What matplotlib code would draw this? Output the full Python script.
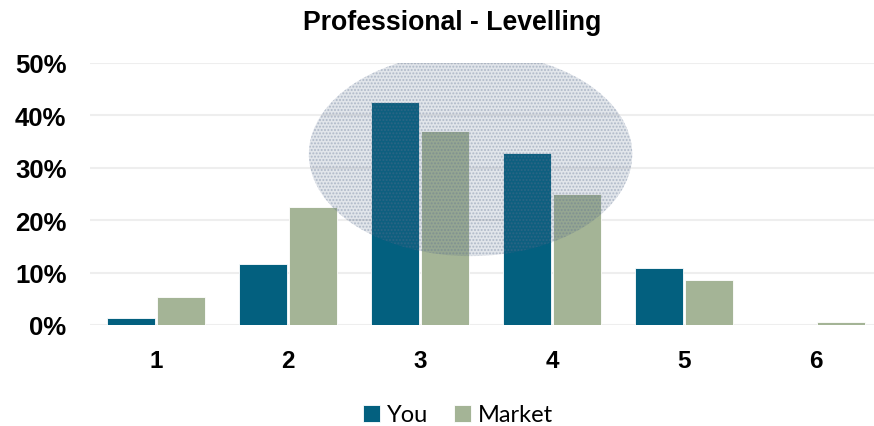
import numpy as np
import matplotlib.pyplot as plt
from matplotlib.patches import Ellipse

# Share of responses per level
levels = ['1', '2', '3', '4', '5', '6']
you = [1.3, 11.6, 42.6, 32.9, 10.8, 0.0]
market = [5.4, 22.5, 37.1, 25.0, 8.5, 0.5]

C_YOU = '#03607F'
C_MARKET = '#A4B496'

fig = plt.figure(figsize=(8.74, 4.27), dpi=100)
ax = fig.add_axes([90 / 874, 1 - 326 / 427, 1 - 90 / 874, (326 - 64) / 427])

x = np.arange(len(levels))
w = 0.365
off = 0.19
ax.bar(x - off, you, w, color=C_YOU, edgecolor='white', linewidth=0.6, label='You', zorder=2)
ax.bar(x + off, market, w, color=C_MARKET, edgecolor='white', linewidth=0.6, label='Market', zorder=2)

# dotted highlight round the peak levels
el = Ellipse((2.383, 32.6), 2.45, 38.9, facecolor='#4A5F80', alpha=0.16, linewidth=0, zorder=3)
ax.add_patch(el)
el2 = Ellipse((2.383, 32.6), 2.45, 38.9, facecolor='none', edgecolor='#5C6F90', hatch='.....',
              alpha=0.35, linewidth=0, zorder=3)
ax.add_patch(el2)

ax.set_xlim(-0.5, (874 - 90) / 132 - 0.5)
ax.set_ylim(0, 50)
ax.set_yticks(np.arange(0, 51, 10))
ax.set_yticklabels([f'{v}%' for v in range(0, 51, 10)], fontsize=18.5, fontweight='bold',
                   family='Liberation Sans')
ax.set_xticks(x)
ax.set_xticklabels(levels, fontsize=17.5, fontweight='bold', family='Liberation Sans')
ax.tick_params(axis='both', length=0)
ax.tick_params(axis='x', pad=17)
ax.tick_params(axis='y', pad=17)
ax.yaxis.grid(True, color='#EEEEEE', linewidth=1.5, zorder=0)
ax.set_axisbelow(True)
for s in ax.spines.values():
    s.set_visible(False)

fig.text(452 / 874, 1 - 23 / 427, 'Professional - Levelling', ha='center', va='center',
         fontsize=19.2, fontweight='bold', family='Liberation Sans')

handles, labels = ax.get_legend_handles_labels()
fig.legend(handles, labels, loc='center', bbox_to_anchor=(458 / 874, 1 - 416 / 427), ncol=2,
           frameon=False, prop={'family': 'Lato', 'size': 17}, handlelength=0.7,
           handleheight=0.7, handletextpad=0.3, columnspacing=1.1)

fig.savefig('out.png', dpi=100)
